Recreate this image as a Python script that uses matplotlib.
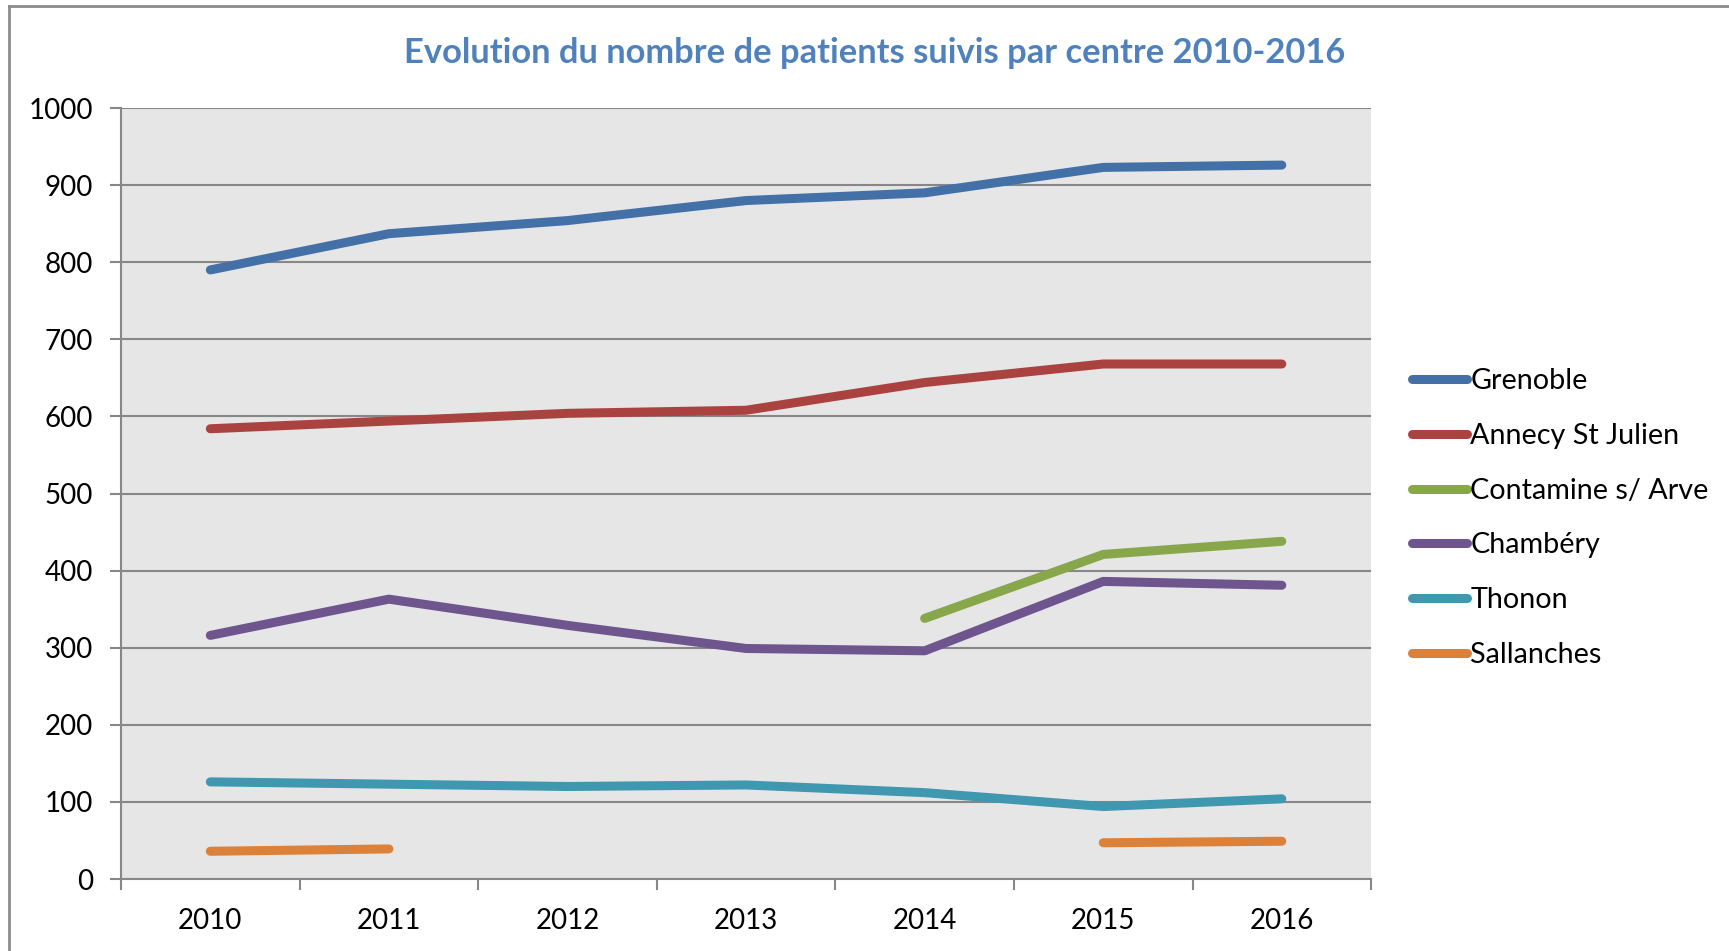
import numpy as np
import matplotlib
matplotlib.use("Agg")
import matplotlib.pyplot as plt
from matplotlib.lines import Line2D

plt.rcParams['font.family'] = ['Lato', 'DejaVu Sans']

years = ["2010", "2011", "2012", "2013", "2014", "2015", "2016"]
nan = np.nan
grenoble = [790, 837, 854, 880, 890, 923, 926]
annecy = [584, 594, 604, 608, 644, 668, 668]
contamine = [nan, nan, nan, nan, 338, 421, 438]
chambery = [316, 363, 329, 299, 296, 386, 381]
thonon = [126, 123, 120, 122, 112, 94, 104]
sallanches = [36, 39, nan, nan, nan, 47, 49]

series = [
    ("Grenoble", grenoble, "#4470A8"),
    ("Annecy St Julien", annecy, "#AA4340"),
    ("Contamine s/ Arve", contamine, "#88A64A"),
    ("Chambéry", chambery, "#6E558E"),
    ("Thonon", thonon, "#3F98B0"),
    ("Sallanches", sallanches, "#DC8139"),
]
title = "Evolution du nombre de patients suivis par centre 2010-2016"

fig = plt.figure(figsize=(17.29, 9.51), dpi=100)
ax = fig.add_axes([0.070, 0.0757, 0.723, 0.8107])
ax.set_facecolor("#E6E6E6")

x = np.arange(len(years))
handles = []
for name, vals, col in series:
    ln, = ax.plot(x, np.array(vals, dtype=float), color=col, lw=6.5,
                  solid_capstyle='round', solid_joinstyle='round', label=name, zorder=3)
    handles.append(ln)

ax.set_xlim(-0.5, len(years) - 0.5)
ax.set_ylim(0, 1000)
ax.set_yticks(np.arange(0, 1001, 100))
ax.yaxis.grid(True, color="#878787", lw=1.5, zorder=1)
ax.set_axisbelow(True)

ax.set_xticks(np.arange(-0.5, len(years), 1.0))
ax.set_xticklabels([""] * (len(years) + 1))
ax.set_xticks(x, minor=True)
ax.set_xticklabels(years, minor=True)
ax.tick_params(axis='x', which='major', length=8, width=1.5, color="#878787", direction='out')
ax.tick_params(axis='x', which='minor', length=0, pad=21, labelsize=20)
ax.tick_params(axis='y', length=8, width=1.5, color="#878787", direction='out', pad=12, labelsize=20)

for s in ['top', 'right']:
    ax.spines[s].set_visible(False)
for s in ['left', 'bottom']:
    ax.spines[s].set_color("#878787")
    ax.spines[s].set_linewidth(1.5)

fig.text(0.506, 0.9445, title, ha='center', va='center', fontsize=24.8,
         fontweight='bold', color="#4F81BD")

leg = fig.legend(handles=handles, loc='center left', bbox_to_anchor=(0.8168, 0.4553),
                 frameon=False, fontsize=20.7, handlelength=1.9, handletextpad=0.12,
                 labelspacing=1.0, borderpad=0, borderaxespad=0)

# outer chart frame
fig.add_artist(Line2D([0.005, 1.0], [0.9935, 0.9935], transform=fig.transFigure,
                      color="#8C8C8C", lw=2))
fig.add_artist(Line2D([0.005, 0.005], [0.0, 0.9935], transform=fig.transFigure,
                      color="#8C8C8C", lw=2))

fig.savefig("out.png", dpi=100)
